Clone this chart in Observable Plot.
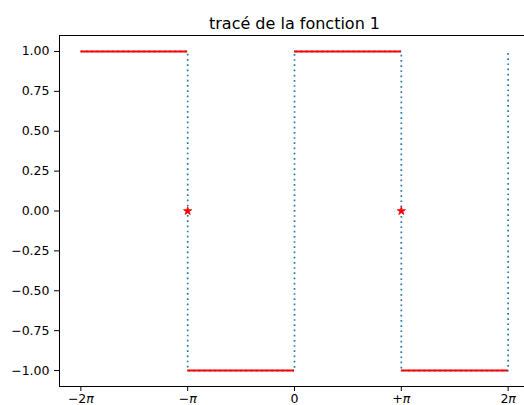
<!DOCTYPE html>
<html>
<head>
<meta charset="utf-8">
<script src="https://cdn.jsdelivr.net/npm/d3@7"></script>
<script src="https://cdn.jsdelivr.net/npm/@observablehq/plot@0.6"></script>
<style>
  html, body { margin: 0; padding: 0; background: white; overflow: hidden; }
</style>
</head>
<body>
<div id="chart"></div>
<script>
const PI = Math.PI;
const titleText = "tracé de la fonction 1";

// horizontal red segments of the square wave
const segX1 = [-2 * PI, -PI, 0, PI];
const segX2 = [-PI, 0, PI, 2 * PI];
const segY = [1, -1, 1, -1];

// full function drawn as a dotted blue line (with jumps)
const lineX = [-2 * PI, -PI, -PI, 0, 0, PI, PI, 2 * PI, 2 * PI];
const lineY = [1, 1, -1, -1, 1, 1, -1, -1, 1];

// values at discontinuities (red stars)
const starX = [-PI, PI];
const starY = [0, 0];

// ticks
const xTicks = [-2 * PI, -PI, 0, PI, 2 * PI];
const xLabels = ["−2π", "−π", "0", "+π", "2π"];
const yTicks = [-1, -0.75, -0.5, -0.25, 0, 0.25, 0.5, 0.75, 1];
const yLabels = ["−1.00", "−0.75", "−0.50", "−0.25", "0.00", "0.25", "0.50", "0.75", "1.00"];

const segs = segX1.map((x1, i) => ({x1, x2: segX2[i], y: segY[i]}));
const line = lineX.map((x, i) => ({x, y: lineY[i]}));
const stars = starX.map((x, i) => ({x, y: starY[i]}));

const svg = Plot.plot({
  width: 540,
  height: 405,
  marginLeft: 59,
  marginRight: 11,
  marginTop: 35,
  marginBottom: 19,
  style: {fontFamily: "DejaVu Sans", fontSize: "12.5px", color: "black", background: "white", overflow: "visible", maxWidth: "none", height: "405px"},
  x: {domain: [-2.2 * PI, 2.2 * PI]},
  y: {domain: [-1.1, 1.1]},
  marks: [
    Plot.line(line, {x: "x", y: "y", stroke: "#1f77b4", strokeWidth: 1.7, strokeDasharray: "1.7 3.5", strokeLinecap: "butt"}),
    Plot.ruleY(segs, {x1: "x1", x2: "x2", y: "y", stroke: "red", strokeWidth: 2}),
    Plot.dot(stars, {x: "x", y: "y", symbol: "star", r: 2.6, fill: "red", stroke: "red", strokeWidth: 0.8}),
    Plot.frame({stroke: "black", strokeWidth: 1}),
    Plot.axisX({ticks: xTicks, tickFormat: d => xLabels[xTicks.indexOf(d)], tickSize: 5, tickPadding: 3, label: null, fontSize: 12.5}),
    Plot.axisY({ticks: yTicks, tickFormat: d => yLabels[yTicks.indexOf(d)], tickSize: 5, tickPadding: 5, label: null, fontSize: 12.5}),
    Plot.text([titleText], {text: d => d, frameAnchor: "top", dy: -18, fontSize: 16})
  ]
});

// italic pi like matplotlib mathtext
svg.querySelectorAll("text").forEach(t => {
  const s = t.textContent;
  if (s.includes("π") && t.children.length === 0) {
    t.textContent = "";
    const parts = s.split("π");
    const ns = "http://www.w3.org/2000/svg";
    if (parts[0]) {
      const a = document.createElementNS(ns, "tspan");
      a.textContent = parts[0];
      t.appendChild(a);
    }
    const p = document.createElementNS(ns, "tspan");
    p.textContent = "π";
    p.setAttribute("font-style", "italic");
    t.appendChild(p);
  }
});

document.getElementById("chart").appendChild(svg);
</script>
</body>
</html>
